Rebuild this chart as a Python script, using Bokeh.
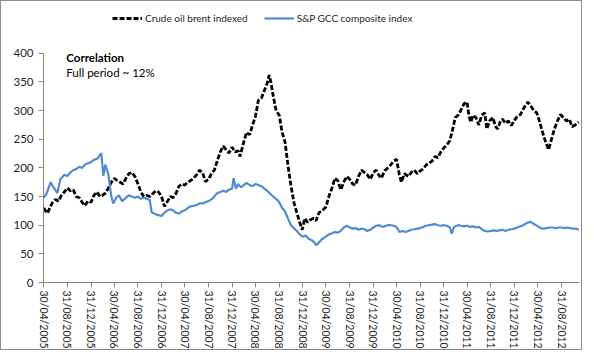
import pandas as pd
from bokeh.plotting import figure
from bokeh.models import (Range1d, FixedTicker, DatetimeTickFormatter, Legend, LegendItem, Label)
from bokeh.embed import file_html
from bokeh.resources import INLINE

# ---------------- data ----------------
brent_dates = [
    "2005-04-30","2005-05-10","2005-05-20","2005-05-31","2005-06-15","2005-06-30","2005-07-15","2005-07-31",
    "2005-08-15","2005-08-31","2005-09-15","2005-09-30","2005-10-15","2005-10-31","2005-11-15","2005-11-30",
    "2005-12-15","2005-12-31","2006-01-15","2006-01-31","2006-02-15","2006-02-28","2006-03-15","2006-03-31",
    "2006-04-15","2006-04-30","2006-05-15","2006-05-31","2006-06-15","2006-06-30","2006-07-15","2006-07-31",
    "2006-08-15","2006-08-31","2006-09-15","2006-09-30","2006-10-15","2006-10-31","2006-11-15","2006-11-30",
    "2006-12-15","2006-12-31","2007-01-15","2007-01-31","2007-02-15","2007-02-28","2007-03-15","2007-03-31",
    "2007-04-15","2007-04-30","2007-05-15","2007-05-31","2007-06-15","2007-06-30","2007-07-15","2007-07-31",
    "2007-08-15","2007-08-31","2007-09-15","2007-09-30","2007-10-15","2007-10-31","2007-11-15","2007-11-30",
    "2007-12-15","2007-12-31","2008-01-15","2008-01-31","2008-02-10","2008-02-29","2008-03-15","2008-03-31",
    "2008-04-15","2008-04-30","2008-05-15","2008-05-31","2008-06-15","2008-06-30","2008-07-10","2008-07-20",
    "2008-07-31","2008-08-15","2008-08-31","2008-09-15","2008-09-30","2008-10-15","2008-10-31","2008-11-15",
    "2008-11-30","2008-12-15","2008-12-28","2009-01-10","2009-01-25","2009-02-10","2009-02-25","2009-03-10",
    "2009-03-25","2009-04-10","2009-04-30","2009-05-15","2009-05-31","2009-06-15","2009-06-30","2009-07-15",
    "2009-07-31","2009-08-15","2009-08-31","2009-09-15","2009-09-30","2009-10-15","2009-10-31","2009-11-15",
    "2009-11-30","2009-12-15","2009-12-31","2010-01-15","2010-01-31","2010-02-10","2010-02-28","2010-03-15",
    "2010-03-31","2010-04-15","2010-04-30","2010-05-15","2010-05-25","2010-06-10","2010-06-30","2010-07-15",
    "2010-07-31","2010-08-15","2010-08-31","2010-09-15","2010-09-30","2010-10-15","2010-10-31","2010-11-15",
    "2010-11-30","2010-12-15","2010-12-31","2011-01-15","2011-01-31","2011-02-15","2011-02-28","2011-03-15",
    "2011-03-31","2011-04-15","2011-04-30","2011-05-10","2011-05-20","2011-05-31","2011-06-15","2011-06-30",
    "2011-07-15","2011-07-31","2011-08-10","2011-08-25","2011-09-10","2011-09-25","2011-10-05","2011-10-20",
    "2011-10-31","2011-11-15","2011-11-30","2011-12-15","2011-12-31","2012-01-15","2012-01-31","2012-02-15",
    "2012-02-29","2012-03-10","2012-03-25","2012-04-10","2012-04-25","2012-05-10","2012-05-25","2012-06-10",
    "2012-06-25","2012-07-10","2012-07-25","2012-08-10","2012-08-25","2012-09-10","2012-09-25","2012-10-10",
    "2012-10-25","2012-11-10","2012-11-28",
]
brent_values = [
    130,125,121,130,140,145,142,152,
    158,165,160,162,150,148,140,134,
    142,140,152,158,150,152,156,165,
    175,182,178,175,172,182,190,192,
    185,172,158,150,152,150,155,160,
    158,150,133,142,150,148,155,168,
    172,170,175,178,182,188,196,192,
    176,180,190,196,212,228,238,232,
    226,236,228,230,220,245,262,258,
    275,290,318,322,335,348,362,348,
    325,300,292,262,245,205,168,140,
    122,105,92,112,105,110,112,108,
    122,125,132,150,165,182,178,162,
    175,185,180,172,170,185,196,192,
    188,180,192,196,186,182,195,200,
    205,212,215,188,175,190,185,192,
    196,190,195,198,205,208,212,220,
    218,228,235,240,248,268,288,292,
    302,312,315,290,280,292,288,275,
    292,296,268,282,288,272,268,282,
    285,278,282,274,283,290,293,303,
    310,315,308,300,296,280,262,245,
    232,250,268,282,293,288,282,285,
    272,275,280,
]

gcc_dates = [
    "2005-04-30","2005-05-15","2005-06-05","2005-06-20","2005-07-10","2005-07-25","2005-08-15","2005-08-31",
    "2005-09-15","2005-09-30","2005-10-15","2005-10-31","2005-11-15","2005-11-30","2005-12-15","2005-12-31",
    "2006-01-15","2006-01-31","2006-02-10","2006-02-22","2006-03-05","2006-03-15","2006-03-31","2006-04-15",
    "2006-04-25","2006-05-10","2006-05-25","2006-06-10","2006-06-30","2006-07-15","2006-07-31","2006-08-15",
    "2006-08-31","2006-09-15","2006-09-30","2006-10-15","2006-10-31","2006-11-10","2006-11-25","2006-12-10",
    "2006-12-31","2007-01-15","2007-01-31","2007-02-15","2007-02-28","2007-03-15","2007-03-31","2007-04-15",
    "2007-04-30","2007-05-15","2007-05-31","2007-06-15","2007-06-30","2007-07-15","2007-07-31","2007-08-15",
    "2007-08-31","2007-09-15","2007-09-30","2007-10-15","2007-10-31","2007-11-15","2007-11-30","2007-12-15",
    "2007-12-31","2008-01-08","2008-01-20","2008-01-31","2008-02-15","2008-02-29","2008-03-15","2008-03-31",
    "2008-04-15","2008-04-30","2008-05-15","2008-05-31","2008-06-15","2008-06-30","2008-07-15","2008-07-31",
    "2008-08-15","2008-08-31","2008-09-15","2008-09-30","2008-10-15","2008-10-31","2008-11-15","2008-11-30",
    "2008-12-15","2008-12-31","2009-01-15","2009-01-31","2009-02-15","2009-02-28","2009-03-10","2009-03-25",
    "2009-04-10","2009-04-30","2009-05-15","2009-05-31","2009-06-15","2009-06-30","2009-07-15","2009-07-31",
    "2009-08-15","2009-08-31","2009-09-15","2009-09-30","2009-10-15","2009-10-31","2009-11-15","2009-11-30",
    "2009-12-15","2009-12-31","2010-01-15","2010-01-31","2010-02-15","2010-02-28","2010-03-15","2010-03-31",
    "2010-04-15","2010-04-30","2010-05-15","2010-05-31","2010-06-15","2010-06-30","2010-07-15","2010-07-31",
    "2010-08-15","2010-08-31","2010-09-15","2010-09-30","2010-10-15","2010-10-31","2010-11-15","2010-11-30",
    "2010-12-15","2010-12-31","2011-01-15","2011-01-31","2011-02-10","2011-02-20","2011-02-28","2011-03-15",
    "2011-03-31","2011-04-15","2011-04-30","2011-05-15","2011-05-31","2011-06-15","2011-06-30","2011-07-15",
    "2011-07-31","2011-08-15","2011-08-31","2011-09-15","2011-09-30","2011-10-15","2011-10-31","2011-11-15",
    "2011-11-30","2011-12-15","2011-12-31","2012-01-15","2012-01-31","2012-02-15","2012-02-29","2012-03-15",
    "2012-03-25","2012-04-10","2012-04-30","2012-05-15","2012-05-31","2012-06-15","2012-06-30","2012-07-15",
    "2012-07-31","2012-08-15","2012-08-31","2012-09-15","2012-09-30","2012-10-15","2012-10-31","2012-11-15",
    "2012-11-28",
]
gcc_values = [
    148,155,175,166,156,180,188,186,
    192,196,198,202,200,206,208,210,
    214,216,220,226,186,206,188,150,
    138,148,152,142,148,152,150,148,
    150,146,148,146,144,122,120,118,
    116,122,126,128,126,122,120,124,
    126,130,133,134,135,138,138,140,
    142,145,150,156,158,160,158,162,
    164,182,164,172,166,170,174,170,
    168,172,170,168,164,160,155,150,
    146,140,130,124,112,100,95,90,
    84,80,82,76,74,70,65,70,
    76,80,84,86,88,87,90,96,
    99,96,94,95,92,94,93,90,
    92,96,99,100,97,98,100,100,
    99,97,88,90,88,90,92,93,
    94,95,97,99,100,101,102,100,
    99,100,99,96,85,96,98,100,
    99,98,99,97,98,96,97,93,
    90,89,90,91,90,91,92,90,
    92,93,94,96,98,100,103,105,
    106,102,98,95,94,95,96,96,
    95,96,96,95,96,95,94,94,
    92,
]

x_tick_labels = [
    "30/04/2005","31/08/2005","31/12/2005","30/04/2006","31/08/2006","31/12/2006",
    "30/04/2007","31/08/2007","31/12/2007","30/04/2008","31/08/2008","31/12/2008",
    "30/04/2009","31/08/2009","31/12/2009","30/04/2010","31/08/2010","31/12/2010",
    "30/04/2011","31/08/2011","31/12/2011","30/04/2012","31/08/2012",
]
y_ticks = [0, 50, 100, 150, 200, 250, 300, 350, 400]

series_names = ["Crude oil brent indexed", "S&P GCC composite index"]
corr_title = "Correlation"
corr_text = "Full period ~ 12%"

# ---------------- figure ----------------
FONT = "Lato"
TXT = "#262626"
AX = "#868686"

bx = pd.to_datetime(brent_dates)
gx = pd.to_datetime(gcc_dates)
tick_dt = pd.to_datetime(x_tick_labels, format="%d/%m/%Y")
tick_ms = [int(t.value // 10**6) for t in tick_dt]

# the frame reaches up to the legend row; the value axis itself stops at 400
p = figure(width=582, height=350, x_axis_type="datetime",
           output_backend="svg", toolbar_location=None,
           x_range=Range1d(pd.Timestamp("2005-04-29"), pd.Timestamp("2012-12-02")),
           y_range=Range1d(0, 473),
           min_border_left=42, min_border_right=4, min_border_top=10, min_border_bottom=60)
p.styles = {"border": "1px solid #8c8c8c"}
p.outline_line_color = None
p.xgrid.visible = False
p.ygrid.visible = False
p.background_fill_color = "white"
p.border_fill_color = "white"

r_brent = p.line(bx, brent_values, line_color="black", line_width=2.8, line_dash="5 2")
r_gcc = p.line(gx, gcc_values, line_color="#4F8AD6", line_width=2.2)

# x axis
xa = p.xaxis[0]
xa.ticker = FixedTicker(ticks=tick_ms)
fmt = "%d/%m/%Y"
xa.formatter = DatetimeTickFormatter(milliseconds=fmt, seconds=fmt, minsec=fmt, minutes=fmt,
                                     hourmin=fmt, hours=fmt, days=fmt, months=fmt, years=fmt)
xa.major_label_orientation = "vertical"
xa.major_tick_in = 0
xa.major_tick_out = 5
xa.minor_tick_out = 0
xa.minor_tick_in = 0
xa.axis_line_color = AX
xa.major_tick_line_color = AX
xa.major_label_text_font = FONT
xa.major_label_text_font_size = "10.5px"
xa.major_label_text_color = TXT
xa.major_label_standoff = 3

# y axis
ya = p.yaxis[0]
ya.ticker = FixedTicker(ticks=y_ticks)
ya.bounds = (0, 400)
ya.major_tick_in = 0
ya.major_tick_out = 5
ya.minor_tick_out = 0
ya.minor_tick_in = 0
ya.axis_line_color = AX
ya.major_tick_line_color = AX
ya.major_label_text_font = FONT
ya.major_label_text_font_size = "11.5px"
ya.major_label_text_color = TXT
ya.major_label_standoff = 5

# legend row at the top
legend = Legend(items=[LegendItem(label=series_names[0], renderers=[r_brent]),
                       LegendItem(label=series_names[1], renderers=[r_gcc])],
                orientation="horizontal", location=(69, 258),
                glyph_width=30, glyph_height=12, label_standoff=3, spacing=16,
                label_text_font=FONT, label_text_font_size="10px", label_text_color=TXT,
                border_line_color=None, background_fill_alpha=0, padding=2, margin=0)
p.add_layout(legend, "center")

# correlation annotation
p.add_layout(Label(x=pd.Timestamp("2005-08-25"), y=392, text=corr_title,
                   text_font=FONT, text_font_style="bold", text_font_size="11.5px",
                   text_color="black", text_baseline="middle"))
p.add_layout(Label(x=pd.Timestamp("2005-08-25"), y=366, text=corr_text,
                   text_font=FONT, text_font_size="11.5px",
                   text_color="black", text_baseline="middle"))

open("out.html", "w").write(file_html(p, INLINE))
